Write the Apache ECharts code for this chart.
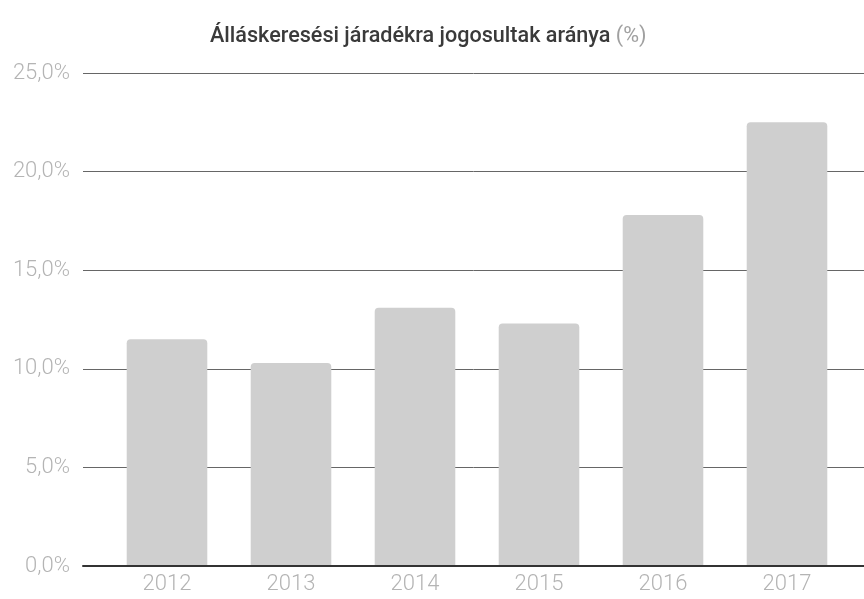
<!DOCTYPE html>
<html>
<head>
<meta charset="utf-8">
<script src="https://cdn.jsdelivr.net/npm/echarts@6/dist/echarts.min.js"></script>
<style>
  html, body { margin: 0; padding: 0; background: #fff; }
  #chart { width: 864px; height: 599px; }
</style>
</head>
<body>
<div id="chart"></div>
<script>
const years = ['2012', '2013', '2014', '2015', '2016', '2017'];
const shares = [11.5, 10.3, 13.1, 12.3, 17.8, 22.5];
const yTicks = [0, 5, 10, 15, 20, 25];

const chart = echarts.init(document.getElementById('chart'));

const labelFont = { color: '#b4b4b4', fontFamily: 'Roboto', fontWeight: 300, fontSize: 22 };

chart.setOption({
  backgroundColor: '#fff',
  animation: false,
  title: {
    text: 'Álláskeresési járadékra jogosultak aránya {u|(%)}',
    left: 205,
    top: 21,
    textStyle: {
      fontFamily: 'Roboto',
      fontWeight: 500,
      fontSize: 21.6,
      color: '#3a3a3a',
      rich: { u: { fontFamily: 'Roboto', fontWeight: 'normal', fontSize: 21.6, color: '#a0a0a0' } },
    },
  },
  grid: [
    // full-width grid: only the horizontal lines + y labels
    { left: 83, right: 0, top: 73, bottom: 33 },
    // inner grid: bars
    { left: 105, right: 15, top: 73, bottom: 33 },
  ],
  xAxis: [
    {
      type: 'category',
      gridIndex: 0,
      data: [''],
      axisTick: { show: false },
      axisLabel: { show: false },
      axisLine: { lineStyle: { color: '#333', width: 2 } },
      z: 5,
    },
    {
      type: 'category',
      gridIndex: 1,
      data: years,
      axisTick: { show: false },
      axisLine: { show: false },
      axisLabel: Object.assign({ margin: 7 }, labelFont),
    },
  ],
  yAxis: [
    {
      type: 'value',
      gridIndex: 0,
      min: yTicks[0],
      max: yTicks[yTicks.length - 1],
      interval: 5,
      axisLine: { show: false },
      axisTick: { show: false },
      axisLabel: Object.assign({
        margin: 13,
        formatter: (v) => v.toFixed(1).replace('.', ',') + '%',
      }, labelFont),
      splitLine: { lineStyle: { color: '#666', width: 1 } },
    },
    {
      type: 'value',
      gridIndex: 1,
      min: yTicks[0],
      max: yTicks[yTicks.length - 1],
      interval: 5,
      show: false,
      splitLine: { show: false },
    },
  ],
  series: [
    {
      type: 'bar',
      xAxisIndex: 1,
      yAxisIndex: 1,
      data: shares,
      barCategoryGap: '35%',
      itemStyle: { color: '#cfcfcf', borderRadius: [4, 4, 0, 0] },
      z: 3,
    },
  ],
});
</script>
</body>
</html>
